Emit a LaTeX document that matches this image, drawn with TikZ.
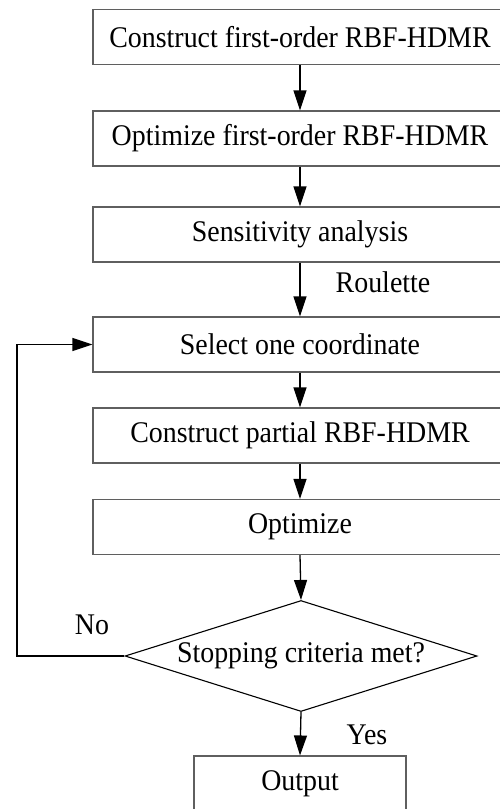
\documentclass[tikz,border=0pt]{standalone}
\usepackage{fontspec}
\setmainfont[FakeStretch=0.93]{Liberation Serif}
\usetikzlibrary{arrows.meta,shapes.geometric}
\definecolor{boxline}{RGB}{95,95,95}
\tikzset{
  stepbox/.style={draw=boxline, line width=1.1pt, rectangle, minimum width=414pt, minimum height=55pt, inner sep=0pt},
  decision/.style={draw=black, line width=1.1pt, diamond, aspect=3.17, minimum width=352pt, minimum height=111pt, inner sep=0pt},
  arr/.style={draw=black, line width=1.3pt, -{Triangle[length=20pt,width=13pt]}},
  lbl/.style={inner sep=0pt},
}
\begin{document}
\begin{tikzpicture}[x=1pt,y=-1pt, every node/.style={font=\fontsize{30}{34}\selectfont}]
\useasboundingbox (0,0) rectangle (500,809);
\clip (0,0) rectangle (500,809);
\node[stepbox] (b1) at (300,37) {Construct first-order RBF-HDMR};
\node[stepbox] (b2) at (300,138.5) {Optimize first-order RBF-HDMR};
\node[stepbox] (b3) at (300,234.5) {Sensitivity analysis};
\node[stepbox] (b4) at (300,344.5) {Select one coordinate};
\node[stepbox] (b5) at (300,435.5) {Construct partial RBF-HDMR};
\node[stepbox] (b6) at (300,527) {Optimize};
\node[decision] (d) at (301,656) {};
\node[lbl] (dt) at (301,656) {Stopping criteria met?};
\node[stepbox, minimum width=212pt] (out) at (300,783.5) {Output};
\coordinate (lp) at (17,656);
\draw[arr] (b1) -- (b2);
\draw[arr] (b2) -- (b3);
\draw[arr] (b3) -- (b4);
\draw[arr] (b4) -- (b5);
\draw[arr] (b5) -- (b6);
\draw[arr] (b6.south) -- (d.north);
\draw[arr] (d.south) -- (out.north);
\draw[arr] (d.west) -- (lp) |- (b4.west);
\node[lbl] (roul) at (383,282) {Roulette};
\node[lbl] (no) at (92,625) {No};
\node[lbl] (yes) at (367,735) {Yes};
\end{tikzpicture}
\end{document}
